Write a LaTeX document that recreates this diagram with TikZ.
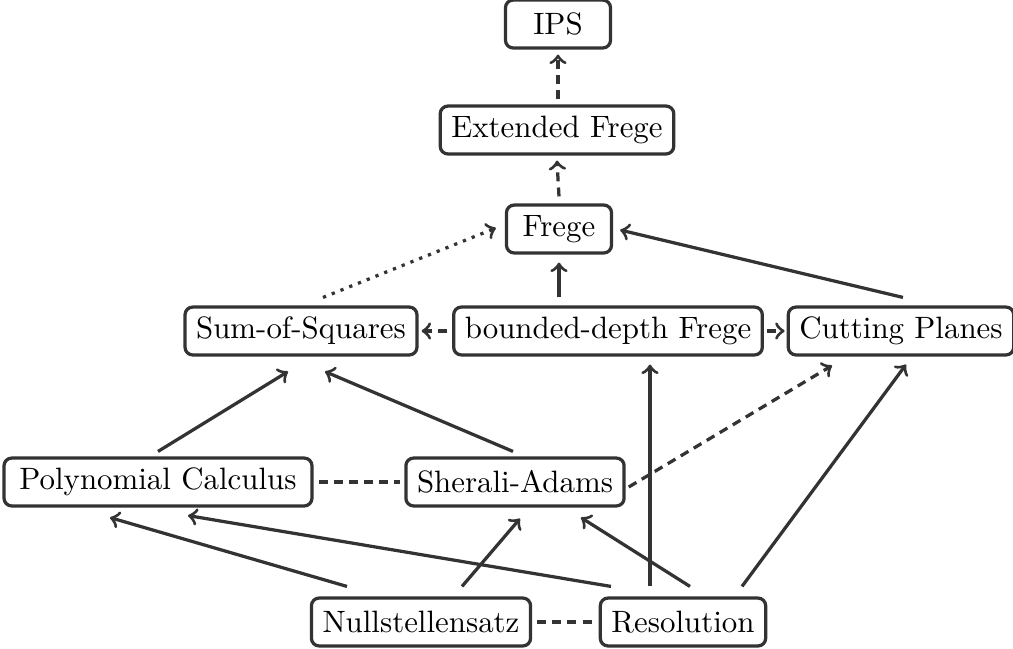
\documentclass[tikz,border=0pt]{standalone}
\usetikzlibrary{calc}
\definecolor{ink}{HTML}{333333}
\begin{document}
\begin{tikzpicture}[x=0.3236pt,y=-0.3236pt,
  box/.style={draw=ink, line width=1.05pt, rounded corners=2.5pt, inner xsep=3.6pt, inner ysep=3pt,
    minimum width=34pt, minimum height=15.5pt, text=black, font=\fontsize{10}{12}\selectfont},
  arr/.style={->, line width=1.05pt, draw=ink},
  ln/.style={line width=1.05pt, draw=ink},
  dsh/.style={dash pattern=on 2.9pt off 2pt}]
\useasboundingbox (0,0) rectangle (1013,649);
\node[box] (ips) at (558,24) {IPS};
\node[box] (ext) at (557,130) {Extended Frege};
\node[box] (frege) at (559,229) {Frege};
\node[box] (sos) at (301,331) {Sum-of-Squares};
\node[box] (bdf) at (608,331) {bounded-depth Frege};
\node[box] (cp) at (901,331) {Cutting Planes};
\node[box, inner xsep=5pt] (pc) at (158,482) {Polynomial Calculus};
\node[box] (sa) at (515,482) {Sherali-Adams};
\node[box] (null) at (421,622) {Nullstellensatz};
\node[box] (res) at (683,622) {Resolution};
\path (bdf.north -| frege.south) coordinate (bdftop);
\draw[arr,dsh] ($(ext.north)+(1,-5)$) -- ($(ips.south)+(0,5)$);
\draw[arr,dsh] ($(frege.north)+(0,-7)$) -- ($(ext.south)+(0,5)$);
\draw[arr,dotted] ($(sos.north)+(22,-8)$) -- ($(frege.west)+(-9,-1)$);
\draw[arr] ($(bdftop)+(0,-8)$) -- ($(frege.south)+(0,8)$);
\draw[arr] ($(cp.north)+(2,-8)$) -- ($(frege.east)+(7,1)$);
\draw[arr,dsh] ($(bdf.west)+(-5,0)$) -- ($(sos.east)+(3,0)$);
\draw[arr,dsh] ($(bdf.east)+(3,0)$) -- ($(cp.west)+(-2,0)$);
\draw[arr] ($(pc.north)+(0,-5)$) -- ($(sos.south)+(-13,15)$);
\draw[arr] ($(sa.north)+(-2,-5)$) -- ($(sos.south)+(24,15)$);
\draw[ln,dsh] ($(pc.east)+(5,0)$) -- ($(sa.west)+(-4,0)$);
\draw[arr,dsh] ($(sa.east)+(3,5)$) -- ($(cp.south)+(-69,9)$);
\draw[arr] ($(null.north)+(-74,-10)$) -- ($(pc.south)+(-48,10)$);
\draw[arr] ($(res.north)+(-72,-10)$) -- ($(pc.south)+(30,8)$);
\draw[arr] ($(null.north)+(41,-10)$) -- ($(sa.south)+(5,11)$);
\draw[arr] ($(res.north)+(7,-10)$) -- ($(sa.south)+(66,10)$);
\draw[arr] ($(res.north)+(-33,-10)$) -- ($(bdf.south)+(42,8)$);
\draw[arr] ($(res.north)+(59,-10)$) -- ($(cp.south)+(5,8)$);
\draw[ln,dsh] ($(null.east)+(5,0)$) -- ($(res.west)+(-5,0)$);
\end{tikzpicture}
\end{document}
